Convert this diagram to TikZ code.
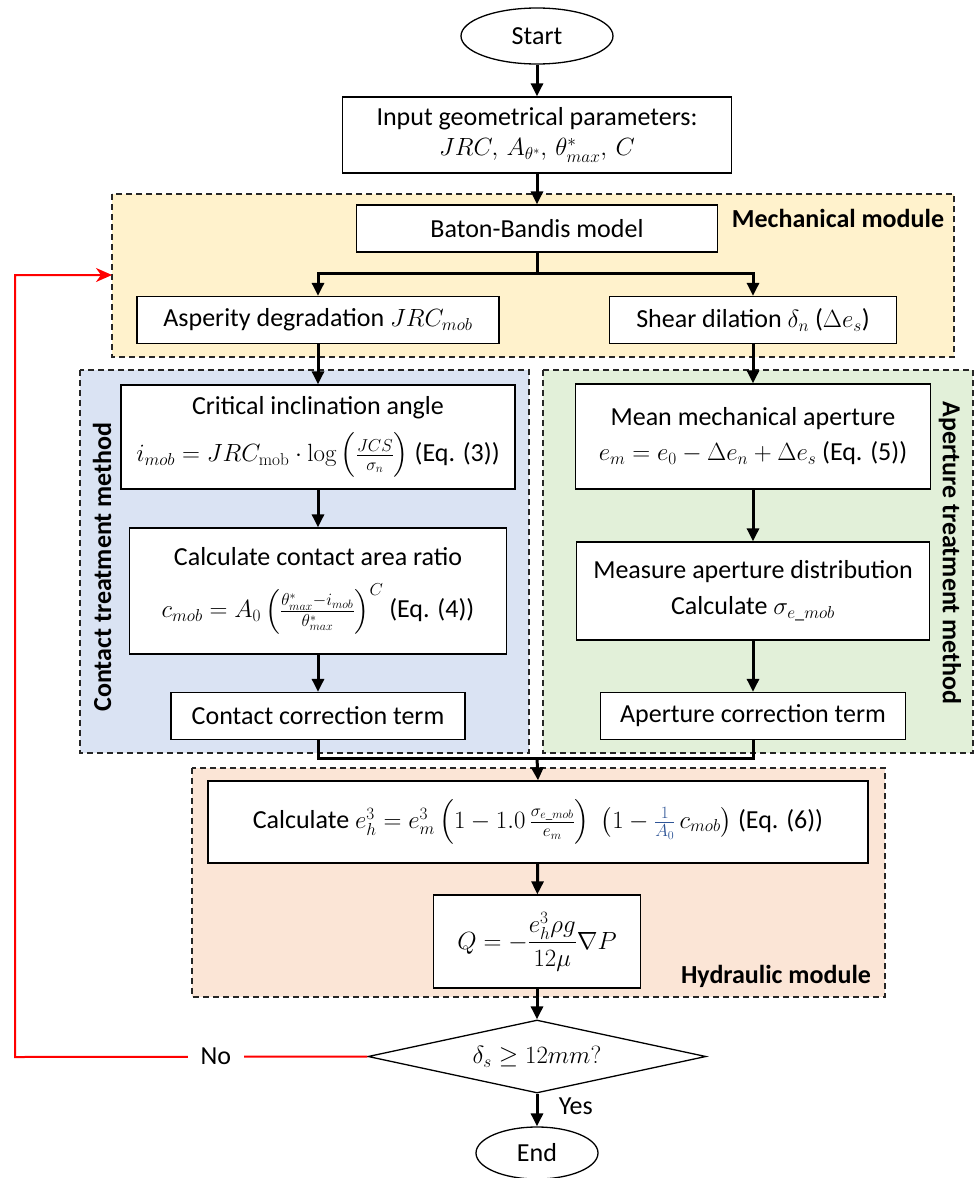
\documentclass[tikz,border=0pt]{standalone}
\usepackage{amsmath}
\usepackage[no-math]{fontspec}
\setmainfont{Carlito}
\usetikzlibrary{shapes.geometric,arrows.meta}
\definecolor{mechfill}{HTML}{FFF2CC}
\definecolor{contfill}{HTML}{DAE3F3}
\definecolor{apfill}{HTML}{E2F0D9}
\definecolor{hydfill}{HTML}{FBE5D6}
\definecolor{eqblue}{HTML}{2F5597}
\definecolor{loopred}{HTML}{FF0000}
\begin{document}
\begin{tikzpicture}[x=1pt,y=-1pt,
  txt/.style={font=\fontsize{26}{31}\selectfont},
  box/.style={txt, draw=black, line width=1.3pt, fill=white, align=center, inner sep=0pt},
  region/.style={draw=black!85, line width=1.3pt, dash pattern=on 6pt off 4pt},
  modlabel/.style={font=\fontsize{26}{31}\selectfont\bfseries, inner sep=0pt},
  conn/.style={line width=3pt},
  arr/.style={conn, -{Triangle[length=13pt,width=12pt]}},
  redarr/.style={draw=loopred, line width=2pt, -{Stealth[length=16pt,width=14pt,inset=5pt]}}
]
\useasboundingbox (0,0) rectangle (975,1178);

% regions
\fill[mechfill] (112,194) rectangle (954,357);
\draw[region] (112,194) rectangle (954,357);
\fill[contfill] (80,370) rectangle (529,753);
\draw[region] (80,370) rectangle (529,753);
\fill[apfill] (543,370) rectangle (973,753);
\draw[region] (543,370) rectangle (973,753);
\fill[hydfill] (192,768) rectangle (885,997);
\draw[region] (192,768) rectangle (885,997);

\node[modlabel] (lmech) at (838,218) {Mechanical module};
\node[modlabel, rotate=90] (lcont) at (102,567) {Contact treatment method};
\node[modlabel, rotate=-90] (lap) at (950,553) {Aperture treatment method};
\node[modlabel] (lhyd) at (776,976) {Hydraulic module};

% nodes
\node[ellipse, draw=black, line width=1.3pt, txt, minimum width=152pt, minimum height=56pt, inner sep=0pt] (start) at (537,36) {Start};
\node[box, minimum width=389pt, minimum height=76pt] (input) at (537,135) {Input geometrical parameters:\\[-1pt] $JRC,\,A_{\theta^*},\,\theta^*_{max},\,C$};
\node[box, minimum width=361pt, minimum height=47pt] (baton) at (537,228.5) {Baton-Bandis model};
\node[box, minimum width=362pt, minimum height=47pt] (asp) at (318,320) {Asperity degradation $JRC_{mob}$};
\node[box, minimum width=287pt, minimum height=47pt] (shear) at (753,320) {Shear dilation $\delta_n$ ($\Delta e_s$)};

\node[box, minimum width=394pt, minimum height=104pt] (crit) at (318,437) {Critical inclination angle\\[13pt] $i_{mob}=JRC_{\mathrm{mob}}\cdot\log\left(\frac{JCS}{\sigma_n}\right)$ (Eq. (3))};
\node[box, minimum width=377pt, minimum height=126pt] (area) at (318,591) {Calculate contact area ratio\\[17pt] $c_{mob}=A_0\left(\frac{\theta^*_{max}-i_{mob}}{\theta^*_{max}}\right)^{C}$ (Eq. (4))};
\node[box, minimum width=294pt, minimum height=47pt] (ccorr) at (318,716) {Contact correction term};

\node[box, minimum width=355pt, minimum height=105pt] (mean) at (753,436.5) {Mean mechanical aperture\\[4pt] $e_m=e_0-\Delta e_n+\Delta e_s$ (Eq. (5))};
\node[box, minimum width=353pt, minimum height=98pt] (meas) at (753,591) {Measure aperture distribution\\[5pt] Calculate $\sigma_{e\_mob}$};
\node[box, minimum width=305pt, minimum height=47pt] (acorr) at (753,716) {Aperture correction term};

\node[box, minimum width=660pt, minimum height=82pt] (calc) at (538,822) {Calculate $e_h^3=e_m^3\left(1-1.0\,\frac{\sigma_{e\_mob}}{e_m}\right)\;\bigl(1-\textcolor{eqblue}{\frac{1}{A_0}}\,c_{mob}\bigr)$ (Eq. (6))};
\node[box, minimum width=207pt, minimum height=93pt] (q) at (537,941.5) {$Q=-\dfrac{e_h^3\rho g}{12\mu}\nabla P$};

\node[diamond, draw=black, line width=1.3pt, txt, minimum width=338pt, minimum height=73pt, aspect=4.6, inner sep=0pt] (dec) at (537,1056.5) {$\delta_s\geq 12mm?$};
\node[ellipse, draw=black, line width=1.3pt, txt, minimum width=122pt, minimum height=52pt, inner sep=0pt] (end) at (537,1153) {End};

% connectors
\coordinate (j1) at (537,273);
\coordinate (j2) at (537,758);
\draw[arr] (start) -- (input);
\draw[arr] (input) -- (baton);
\draw[conn] (baton.south) -- (j1);
\draw[arr] (j1) -| (asp.north);
\draw[arr] (j1) -| (shear.north);
\draw[arr] (asp) -- (crit);
\draw[arr] (shear) -- (mean);
\draw[arr] (crit) -- (area);
\draw[arr] (area) -- (ccorr);
\draw[arr] (mean) -- (meas);
\draw[arr] (meas) -- (acorr);
\draw[conn] (ccorr.south) |- (j2);
\draw[conn] (acorr.south) |- (j2);
\draw[arr] (j2) -- (calc.north);
\draw[arr] (calc) -- (q);
\draw[arr] (q) -- (dec);
\draw[arr] (dec) -- node[txt, right=17pt, pos=0.4] (yes) {Yes} (end);

\coordinate (c1) at (15,1057);
\coordinate (c2) at (15,275);
\coordinate (mechw) at (112,275);
\draw[redarr] (dec.west) -- node[txt, fill=white, inner xsep=13pt, inner ysep=2pt, text=black, pos=0.43] (no) {No} (c1) -- (c2) -- (mechw);
\end{tikzpicture}
\end{document}
